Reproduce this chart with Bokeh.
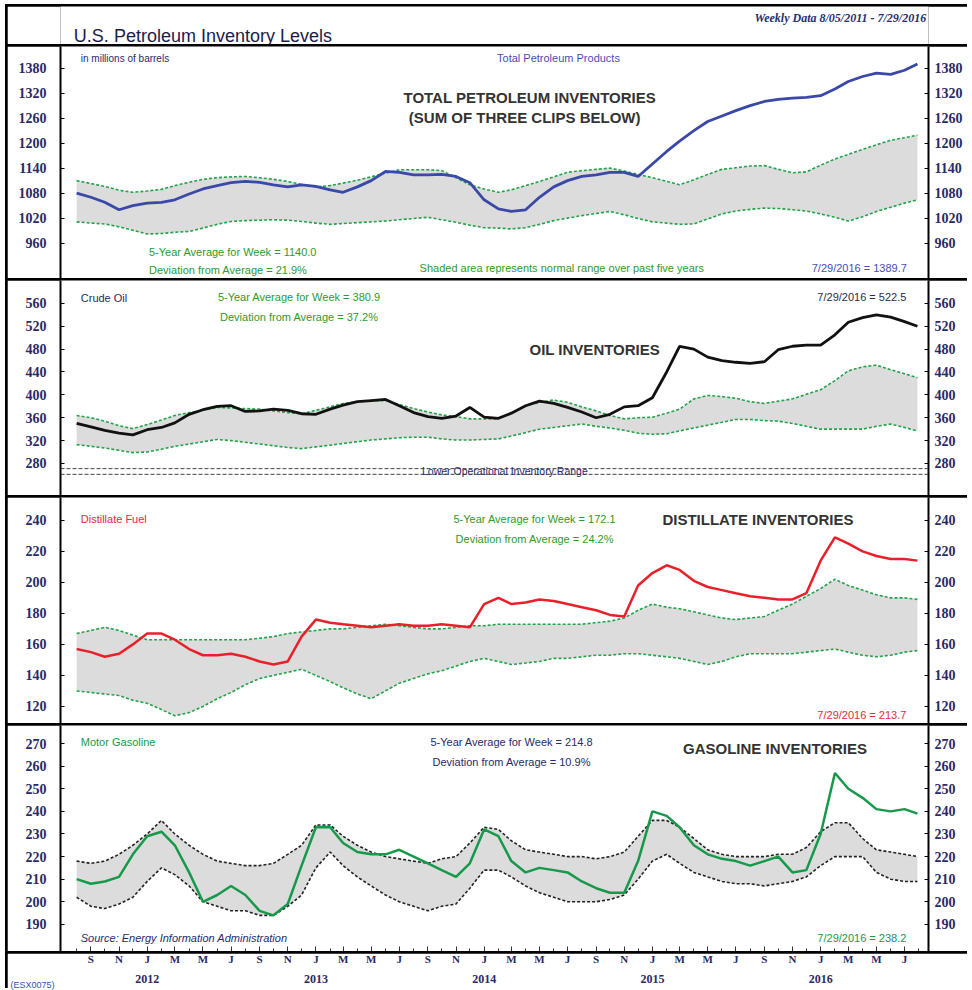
import pandas as pd
from bokeh.plotting import figure
from bokeh.models import (Range1d, LinearAxis, FixedTicker, CustomJSTickFormatter,
                          Label, Span, ColumnDataSource)
from bokeh.layouts import column
from bokeh.embed import file_html
from bokeh.resources import INLINE

# ---------------- data (millions of barrels) ----------------
dates = list(pd.date_range("2011-08-01", "2016-07-01", freq="MS")) + [pd.Timestamp("2016-07-29")]

total = [1080, 1070, 1058, 1040, 1050, 1056, 1058, 1064, 1078, 1090,
         1098, 1105, 1108, 1106, 1100, 1095, 1100, 1096, 1088, 1082,
         1095, 1110, 1132, 1130, 1124, 1124, 1125, 1120, 1105, 1064,
         1042, 1036, 1040, 1070, 1095, 1110, 1120, 1124, 1130, 1130,
         1120, 1150, 1180, 1205, 1230, 1252, 1265, 1278, 1290, 1300,
         1305, 1308, 1310, 1314, 1330, 1348, 1360, 1368, 1365, 1375, 1390]
total_hi = [1110, 1103, 1096, 1087, 1082, 1085, 1089, 1098, 1106, 1113,
            1117, 1119, 1120, 1117, 1113, 1108, 1101, 1095, 1098, 1104,
            1111, 1119, 1128, 1136, 1136, 1136, 1134, 1117, 1100, 1090,
            1082, 1088, 1098, 1108, 1119, 1130, 1134, 1137, 1140, 1133,
            1125, 1117, 1108, 1100, 1112, 1125, 1137, 1141, 1145, 1146,
            1137, 1129, 1131, 1147, 1162, 1173, 1185, 1196, 1207, 1213, 1219]
total_lo = [1011, 1008, 1006, 999, 991, 982, 983, 986, 988, 996,
            1005, 1012, 1014, 1015, 1016, 1015, 1012, 1008, 1005, 1007,
            1009, 1011, 1013, 1016, 1019, 1022, 1016, 1010, 1003, 997,
            996, 994, 997, 1005, 1014, 1020, 1026, 1031, 1036, 1028,
            1019, 1011, 1008, 1005, 1006, 1018, 1030, 1037, 1041, 1044,
            1043, 1040, 1037, 1030, 1022, 1013, 1023, 1036, 1046, 1056, 1064]

crude = [350, 344, 338, 333, 330, 339, 343, 351, 366, 374,
         380, 381, 371, 372, 375, 373, 367, 366, 375, 382,
         388, 390, 392, 381, 369, 362, 359, 363, 378, 361,
         359, 368, 381, 389, 385, 378, 370, 360, 366, 379,
         381, 395, 440, 485, 480, 466, 460, 457, 455, 458,
         479, 485, 487, 487, 505, 527, 535, 540, 536, 528, 520]
crude_hi = [364, 360, 354, 346, 341, 348, 356, 364, 369, 373,
            378, 377, 376, 375, 372, 369, 367, 373, 379, 385,
            388, 390, 390, 383, 376, 370, 365, 362, 358, 358,
            358, 368, 381, 387, 391, 387, 379, 372, 364, 358,
            360, 361, 368, 375, 393, 399, 397, 394, 388, 385,
            389, 393, 401, 409, 425, 442, 449, 452, 444, 437, 430]
crude_lo = [313, 310, 307, 303, 299, 300, 305, 310, 314, 318,
            322, 320, 317, 314, 311, 308, 306, 309, 312, 315,
            318, 321, 323, 325, 326, 326, 323, 321, 321, 322,
            323, 328, 334, 340, 343, 346, 349, 345, 342, 338,
            333, 331, 332, 337, 342, 347, 352, 357, 357, 355,
            354, 350, 345, 340, 340, 340, 340, 345, 349, 343, 337]
crude_lower_op = [271, 261]

dist = [157, 155, 152, 154, 160, 167, 167, 163, 157, 153,
        153, 154, 152, 149, 147, 149, 165, 176, 174, 173,
        172, 171, 172, 173, 172, 172, 173, 172, 171, 186,
        190, 186, 187, 189, 188, 186, 184, 182, 179, 178,
        198, 206, 211, 208, 201, 197, 195, 193, 191, 190,
        189, 189, 193, 214, 229, 225, 220, 217, 215, 215, 214]
dist_hi = [167, 169, 171, 169, 166, 163, 163, 163, 163, 163,
           163, 163, 163, 164, 165, 167, 168, 169, 170, 170,
           171, 172, 173, 172, 171, 170, 170, 171, 172, 172,
           173, 173, 173, 173, 173, 173, 173, 174, 175, 177,
           182, 186, 184, 183, 181, 179, 177, 176, 177, 178,
           182, 186, 191, 196, 202, 198, 195, 192, 190, 190, 189]
dist_lo = [130, 129, 128, 127, 124, 122, 118, 114, 116, 120,
           125, 129, 134, 138, 140, 142, 144, 140, 136, 132,
           128, 125, 130, 135, 138, 141, 143, 146, 149, 151,
           149, 147, 148, 149, 151, 151, 152, 153, 153, 154,
           154, 153, 152, 151, 149, 147, 149, 152, 154, 154,
           154, 154, 155, 156, 157, 155, 153, 152, 153, 155, 156]

gas = [210, 208, 209, 211, 221, 229, 231, 225, 213, 200,
       203, 207, 203, 196, 194, 199, 216, 233, 233, 226,
       222, 221, 221, 223, 220, 217, 214, 211, 217, 232,
       229, 218, 213, 215, 214, 213, 209, 206, 204, 204,
       218, 240, 238, 233, 225, 221, 219, 218, 216, 218,
       220, 213, 214, 230, 257, 250, 246, 241, 240, 241, 239]
gas_hi = [218, 217, 218, 221, 225, 230, 236, 230, 225, 221,
          218, 217, 216, 216, 217, 221, 225, 234, 234, 229,
          225, 222, 220, 219, 218, 217, 219, 220, 226, 233,
          232, 227, 223, 222, 221, 220, 220, 219, 220, 222,
          229, 236, 236, 233, 228, 223, 221, 220, 220, 220,
          221, 221, 224, 231, 235, 235, 228, 223, 222, 221, 220]
gas_lo = [202, 198, 197, 199, 202, 209, 215, 212, 207, 200,
          198, 196, 196, 194, 194, 198, 203, 215, 222, 216,
          211, 207, 203, 200, 198, 196, 198, 199, 206, 214,
          214, 211, 207, 204, 202, 200, 200, 200, 201, 203,
          210, 218, 221, 217, 213, 211, 209, 208, 208, 207,
          208, 209, 211, 216, 220, 220, 220, 213, 210, 209, 209]

total_ticks = [960, 1020, 1080, 1140, 1200, 1260, 1320, 1380]
crude_ticks = [280, 320, 360, 400, 440, 480, 520, 560]
dist_ticks = [120, 140, 160, 180, 200, 220, 240]
gas_ticks = [190, 200, 210, 220, 230, 240, 250, 260, 270]

# ---------------- styling ----------------
W = 960
MBL, MBR = 53, 39
NAVY = "#2a2a66"
GREEN_TXT = "#2e9a2e"
BAND_GREEN = "#22a34a"
SANS = "Liberation Sans"
SERIF = "Liberation Serif"


def ms(s):
    return pd.Timestamp(s).value / 1e6


XR = Range1d(start=pd.Timestamp("2011-06-27"), end=pd.Timestamp("2016-08-22"))

month_ticks = [ms(d) for d in pd.date_range("2011-09-01", "2016-07-01", freq="2MS")]
month_minor = [ms(d) for d in pd.date_range("2011-08-01", "2016-08-01", freq="MS")]
year_ticks = [ms(d) for d in pd.date_range("2012-01-01", "2016-01-01", freq="YS")]


def style_axis(ax, standoff):
    ax.axis_line_width = 2
    ax.axis_line_color = "black"
    ax.major_tick_in = 4
    ax.major_tick_out = 0
    ax.major_tick_line_color = "black"
    ax.minor_tick_line_color = None
    ax.major_label_text_font = SERIF
    ax.major_label_text_font_style = "bold"
    ax.major_label_text_font_size = "14px"
    ax.major_label_text_color = NAVY
    ax.major_label_standoff = standoff


def bare(p):
    p.outline_line_color = None
    p.xgrid.visible = False
    p.ygrid.visible = False


def panel(h, yr, ticks):
    p = figure(width=W, height=h, x_range=XR, y_range=Range1d(*yr), x_axis_type="datetime",
               x_axis_location=None, toolbar_location=None, output_backend="svg",
               min_border_left=MBL, min_border_right=MBR, min_border_top=0, min_border_bottom=0)
    bare(p)
    p.yaxis.ticker = FixedTicker(ticks=ticks)
    style_axis(p.yaxis[0], 14)
    ra = LinearAxis(ticker=FixedTicker(ticks=ticks))
    style_axis(ra, 6)
    p.add_layout(ra, "right")
    return p


def band(p, hi, lo, series, band_color, series_color, series_width):
    src = ColumnDataSource(dict(d=dates, hi=hi, lo=lo, v=series))
    p.varea(x="d", y1="lo", y2="hi", source=src, fill_color="#dcdcdc")
    p.line(x="d", y="hi", source=src, line_color=band_color, line_width=1.6, line_dash="3 2")
    p.line(x="d", y="lo", source=src, line_color=band_color, line_width=1.6, line_dash="3 2")
    p.line(x="d", y="v", source=src, line_color=series_color, line_width=series_width)


def txt(p, x, y, text, color, size="11px", align="left", font=SANS, style="normal",
        baseline="middle"):
    p.add_layout(Label(x=ms(x), y=y, text=text, text_color=color, text_font=font,
                       text_font_size=size, text_align=align, text_baseline=baseline,
                       text_font_style=style))


def head(p, x, y, text):
    txt(p, x, y, text, "#333333", size="15px", align="center", style="bold")


# ---------------- title row ----------------
tf = figure(width=W, height=38, x_range=XR, y_range=Range1d(0, 38), x_axis_type="datetime",
            x_axis_location=None, y_axis_location=None, toolbar_location=None,
            output_backend="svg", min_border_left=MBL, min_border_right=MBR,
            min_border_top=0, min_border_bottom=0)
bare(tf)
txt(tf, "2011-07-26", 9, "U.S. Petroleum Inventory Levels", "#1c1c4a", size="18px",
    baseline="alphabetic")
txt(tf, "2016-08-17", 27, "Weekly Data 8/05/2011 - 7/29/2016", "#27306b", size="12px",
    align="right", font=SERIF, style="bold italic", baseline="alphabetic")

# ---------------- panel 1: total ----------------
p1 = panel(232, (875, 1432), total_ticks)
band(p1, total_hi, total_lo, total, BAND_GREEN, "#3a48a8", 2.8)
txt(p1, "2011-08-10", 1404, "in millions of barrels", NAVY, size="10px")
txt(p1, "2014-01-29", 1404, "Total Petroleum Products", "#4b4bb0")
head(p1, "2014-04-10", 1309, "TOTAL PETROLEUM INVENTORIES")
head(p1, "2014-03-30", 1261, "(SUM OF THREE CLIPS BELOW)")
txt(p1, "2012-01-05", 939, "5-Year Average for Week = 1140.0", GREEN_TXT)
txt(p1, "2012-01-05", 896, "Deviation from Average = 21.9%", GREEN_TXT)
txt(p1, "2013-08-14", 901, "Shaded area represents normal range over past five years", GREEN_TXT)
txt(p1, "2016-07-06", 901, "7/29/2016 = 1389.7", "#4b4bb0", align="right")

# ---------------- panel 2: crude ----------------
p2 = panel(215, (224, 600), crude_ticks)
band(p2, crude_hi, crude_lo, crude, BAND_GREEN, "#111111", 2.8)
for lvl in crude_lower_op:
    p2.add_layout(Span(location=lvl, dimension="width", line_color="#444444",
                       line_width=1, line_dash="4 2"))
txt(p2, "2011-08-10", 570, "Crude Oil", NAVY)
txt(p2, "2012-11-26", 572, "5-Year Average for Week = 380.9", GREEN_TXT, align="center")
txt(p2, "2012-11-26", 537, "Deviation from Average = 37.2%", GREEN_TXT, align="center")
txt(p2, "2016-07-05", 572, "7/29/2016 = 522.5", "#2a2a4a", align="right")
head(p2, "2014-08-29", 480, "OIL INVENTORIES")
txt(p2, "2014-02-15", 266, "Lower Operational Inventory Range", NAVY, size="10.5px", align="center")

# ---------------- panel 3: distillate ----------------
p3 = panel(226, (109, 254.7), dist_ticks)
band(p3, dist_hi, dist_lo, dist, BAND_GREEN, "#e8202a", 2.5)
txt(p3, "2011-08-10", 240.6, "Distillate Fuel", "#e8283c")
txt(p3, "2014-04-21", 240.6, "5-Year Average for Week = 172.1", GREEN_TXT, align="center")
txt(p3, "2014-04-21", 227.9, "Deviation from Average = 24.2%", GREEN_TXT, align="center")
head(p3, "2015-08-18", 240.6, "DISTILLATE INVENTORIES")
txt(p3, "2016-07-05", 114.8, "7/29/2016 = 213.7", "#e8283c", align="right")

# ---------------- panel 4: gasoline ----------------
p4 = panel(226, (178, 278), gas_ticks)
band(p4, gas_hi, gas_lo, gas, "#222222", "#16994a", 2.5)
txt(p4, "2011-08-10", 270.9, "Motor Gasoline", "#16994a")
txt(p4, "2014-03-02", 270.9, "5-Year Average for Week = 214.8", NAVY, align="center")
txt(p4, "2014-03-02", 261.7, "Deviation from Average = 10.9%", NAVY, align="center")
head(p4, "2015-09-24", 267.8, "GASOLINE INVENTORIES")
txt(p4, "2011-08-10", 183.9, "Source: Energy Information Administration", NAVY, style="italic")
txt(p4, "2016-07-05", 183.9, "7/29/2016 = 238.2", "#16994a", align="right")
# month tick marks along the bottom edge of the last panel (no labels)
tk = LinearAxis(ticker=FixedTicker(ticks=month_ticks, minor_ticks=month_minor),
                formatter=CustomJSTickFormatter(code="return '';"))
tk.axis_line_color = None
tk.major_tick_in = 5
tk.major_tick_out = 0
tk.minor_tick_in = 3
tk.minor_tick_out = 0
tk.major_tick_line_color = "#333333"
tk.minor_tick_line_color = "#333333"
tk.major_label_standoff = 0
tk.major_label_text_font_size = "0px"
p4.add_layout(tk, "below")

# ---------------- x axis strip (labels above a thin frame) ----------------
xf = figure(width=W, height=35, x_range=XR, y_range=Range1d(0, 1), x_axis_type="datetime",
            x_axis_location=None, toolbar_location=None, output_backend="svg",
            min_border_left=MBL, min_border_right=MBR, min_border_top=4, min_border_bottom=0)
bare(xf)
yx = LinearAxis(ticker=FixedTicker(ticks=year_ticks),
                formatter=CustomJSTickFormatter(code="return String(new Date(tick).getUTCFullYear());"))
mx = LinearAxis(ticker=FixedTicker(ticks=month_ticks),
                formatter=CustomJSTickFormatter(code='return "JFMAMJJASOND"[new Date(tick).getUTCMonth()];'))
for ax, size, so in ((yx, "12px", 0), (mx, "11px", 1)):
    ax.axis_line_color = None
    ax.major_tick_line_color = None
    ax.minor_tick_line_color = None
    ax.major_label_standoff = so
    ax.major_label_text_font = SERIF
    ax.major_label_text_font_style = "bold"
    ax.major_label_text_font_size = size
    ax.major_label_text_color = NAVY
xf.add_layout(yx, "above")
xf.add_layout(mx, "above")
ex = xf.yaxis[0]
ex.ticker = FixedTicker(ticks=[0.5])
ex.formatter = CustomJSTickFormatter(code="return '(ESX0075)';")
ex.axis_line_color = None
ex.major_tick_line_color = None
ex.minor_tick_line_color = None
ex.major_label_standoff = 0
ex.major_label_text_font = SANS
ex.major_label_text_font_size = "9px"
ex.major_label_text_color = "#3050b0"

lay = column(tf, p1, p2, p3, p4, xf, spacing=2, margin=(4, 0, 0, 5),
             styles={"background-color": "black", "padding": "2px 0px 0px 2px"})

open("out.html", "w").write(file_html(lay, INLINE))
